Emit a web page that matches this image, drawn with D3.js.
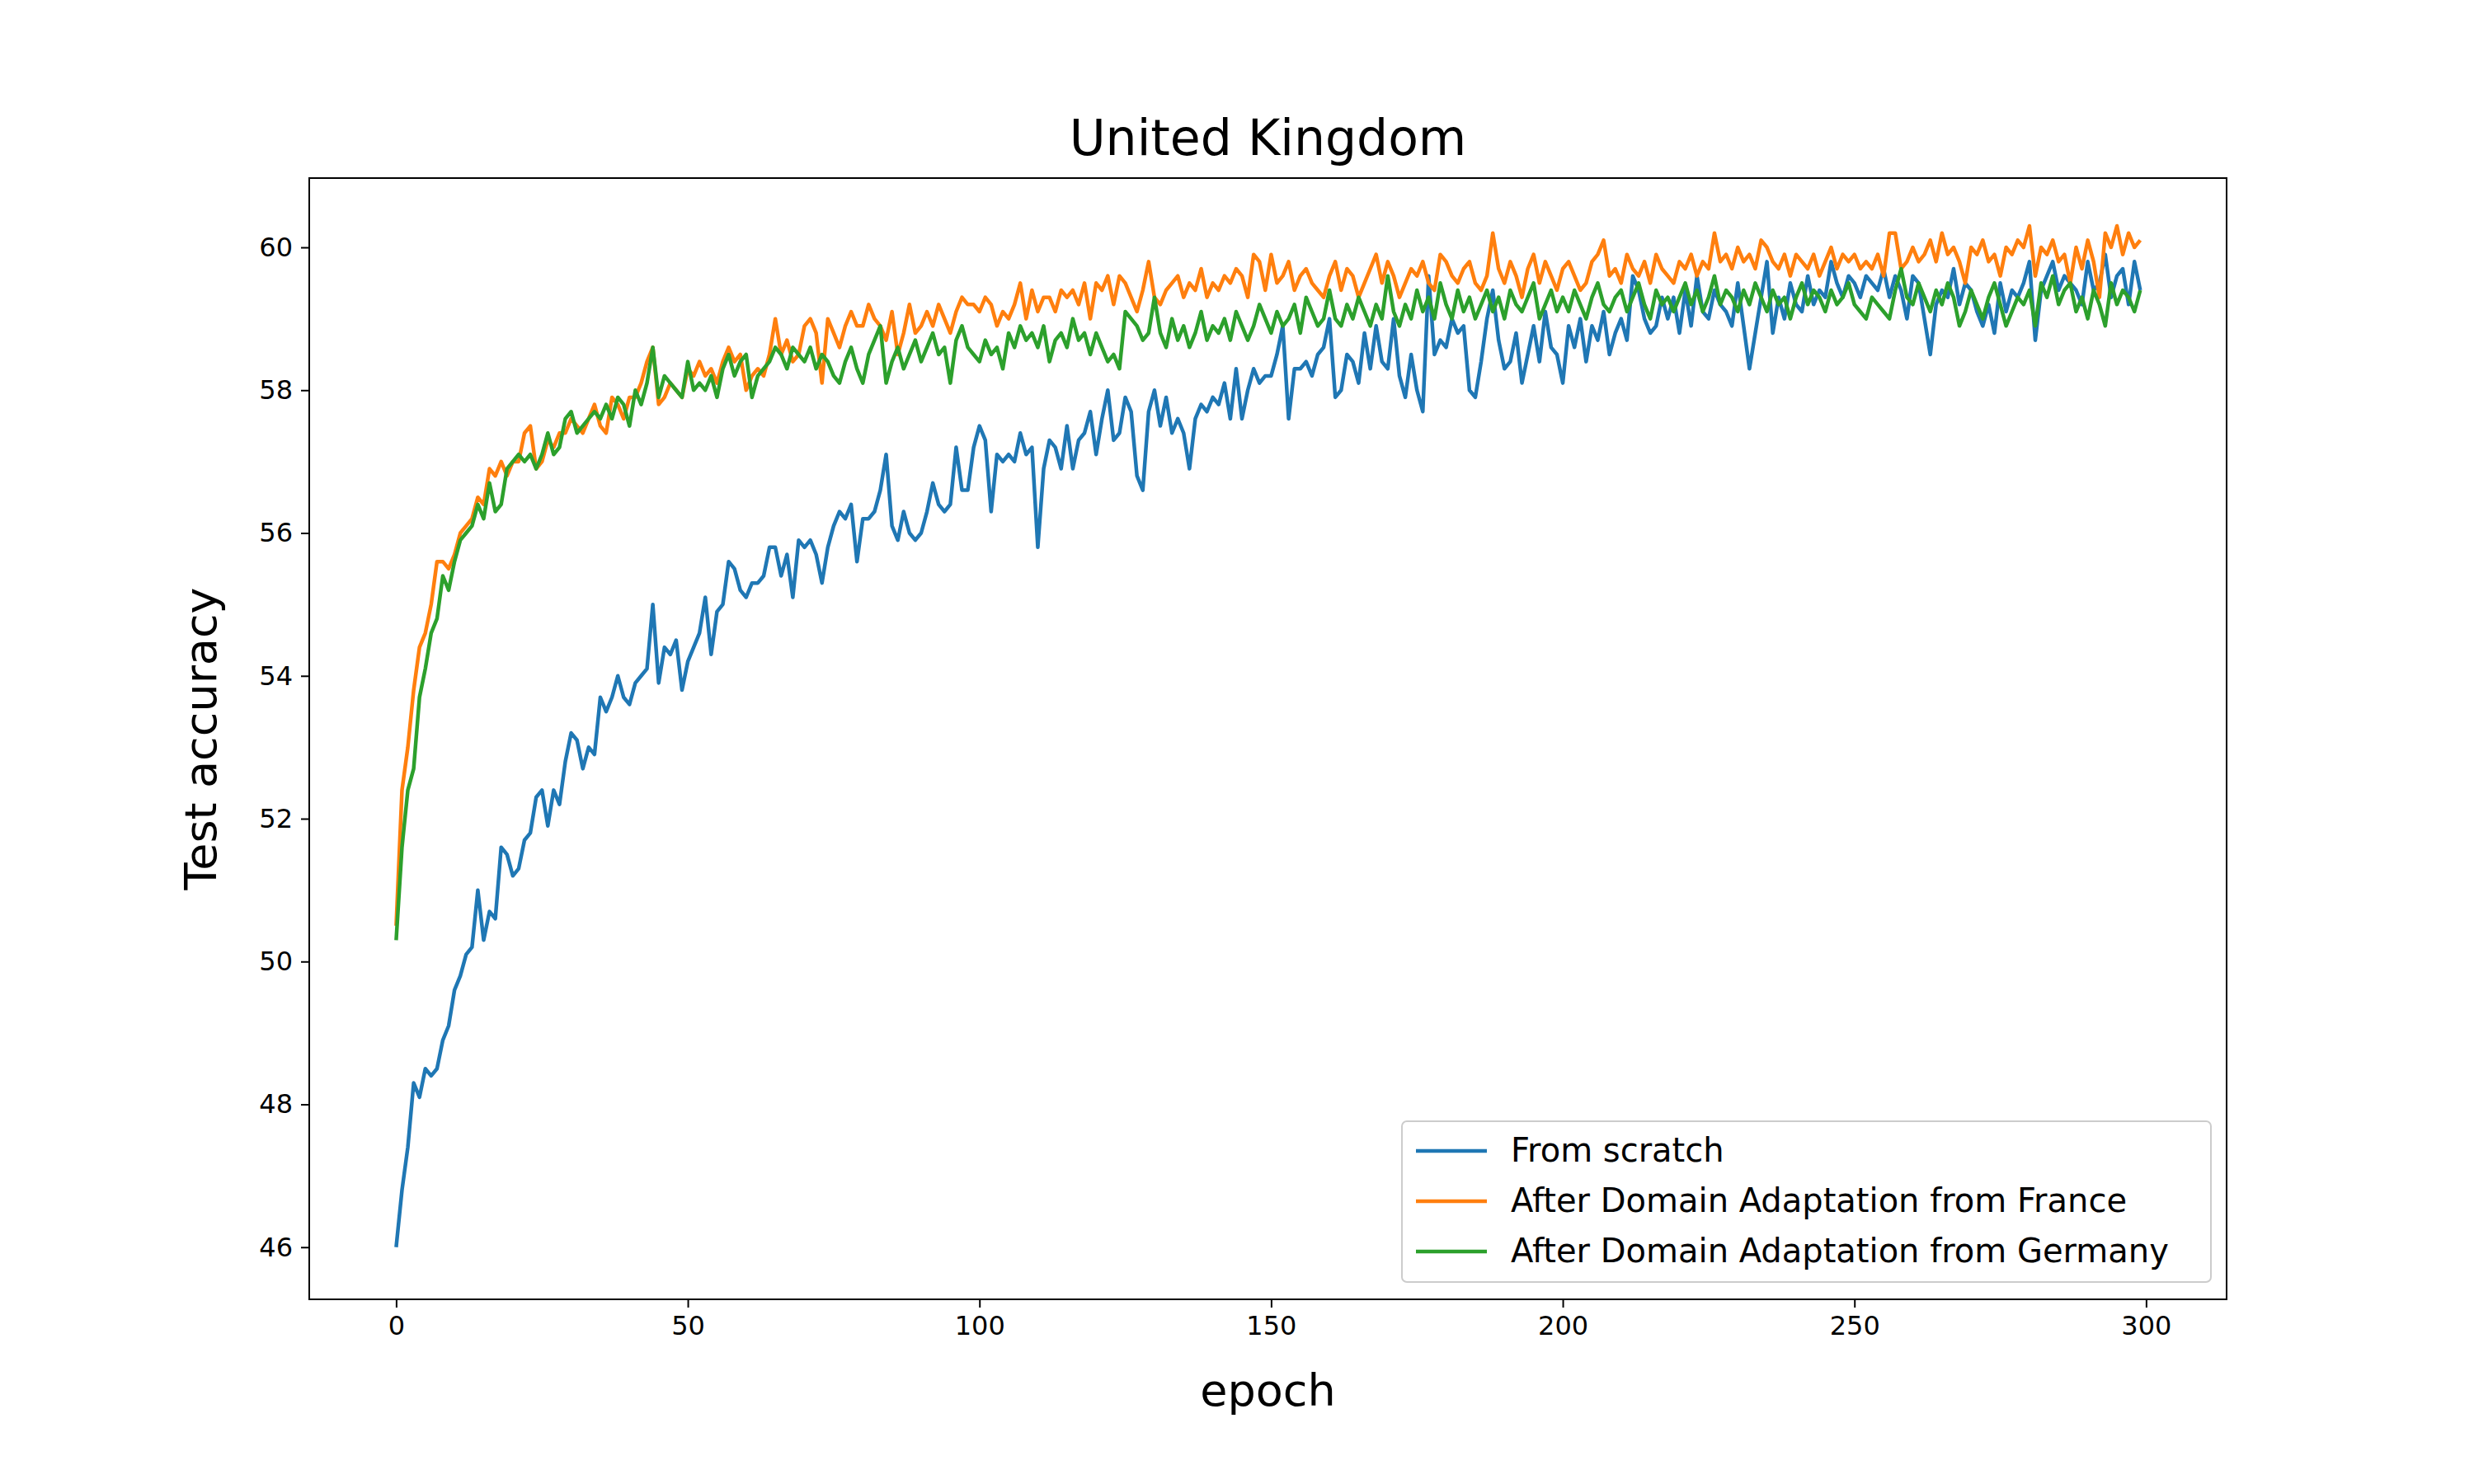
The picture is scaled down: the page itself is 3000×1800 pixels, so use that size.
<!DOCTYPE html>
<html>
<head>
<meta charset="utf-8">
<script src="https://cdn.jsdelivr.net/npm/d3@7"></script>
<style>
  body { margin: 0; background: #fff; }
  text { font-family: "DejaVu Sans", sans-serif; }
</style>
</head>
<body>
<div id="chart"></div>
<script>
// test accuracy per epoch
var scratch = [
46.0,46.8,47.4,48.3,48.1,48.5,48.4,48.5,48.9,49.1,
49.6,49.8,50.1,50.2,51.0,50.3,50.7,50.6,51.6,51.5,
51.2,51.3,51.7,51.8,52.3,52.4,51.9,52.4,52.2,52.8,
53.2,53.1,52.7,53.0,52.9,53.7,53.5,53.7,54.0,53.7,
53.6,53.9,54.0,54.1,55.0,53.9,54.4,54.3,54.5,53.8,
54.2,54.4,54.6,55.1,54.3,54.9,55.0,55.6,55.5,55.2,
55.1,55.3,55.3,55.4,55.8,55.8,55.4,55.7,55.1,55.9,
55.8,55.9,55.7,55.3,55.8,56.1,56.3,56.2,56.4,55.6,
56.2,56.2,56.3,56.6,57.1,56.1,55.9,56.3,56.0,55.9,
56.0,56.3,56.7,56.4,56.3,56.4,57.2,56.6,56.6,57.2,
57.5,57.3,56.3,57.1,57.0,57.1,57.0,57.4,57.1,57.2,
55.8,56.9,57.3,57.2,56.9,57.5,56.9,57.3,57.4,57.7,
57.1,57.6,58.0,57.3,57.4,57.9,57.7,56.8,56.6,57.7,
58.0,57.5,57.9,57.4,57.6,57.4,56.9,57.6,57.8,57.7,
57.9,57.8,58.1,57.6,58.3,57.6,58.0,58.3,58.1,58.2,
58.2,58.5,58.9,57.6,58.3,58.3,58.4,58.2,58.5,58.6,
59.0,57.9,58.0,58.5,58.4,58.1,58.8,58.3,58.9,58.4,
58.3,59.0,58.2,57.9,58.5,58.0,57.7,59.6,58.5,58.7,
58.6,59.0,58.8,58.9,58.0,57.9,58.4,59.0,59.4,58.7,
58.3,58.4,58.8,58.1,58.5,58.9,58.4,59.1,58.6,58.5,
58.1,58.9,58.6,59.0,58.4,58.9,58.7,59.1,58.5,58.8,
59.0,58.7,59.6,59.4,59.0,58.8,58.9,59.3,59.0,59.3,
58.8,59.4,58.9,59.6,59.1,59.0,59.4,59.2,59.1,58.9,
59.5,58.9,58.3,58.8,59.3,59.8,58.8,59.3,59.0,59.5,
59.2,59.1,59.6,59.2,59.4,59.3,59.8,59.5,59.3,59.6,
59.5,59.3,59.6,59.5,59.4,59.7,59.3,59.6,59.4,59.0,
59.6,59.5,59.0,58.5,59.2,59.4,59.3,59.7,59.2,59.5,
59.4,59.1,58.9,59.2,58.8,59.5,59.1,59.4,59.3,59.5,
59.8,58.7,59.4,59.6,59.8,59.4,59.6,59.5,59.4,59.2,
59.8,59.4,59.5,59.9,59.3,59.6,59.7,59.2,59.8,59.4
];
var fromFrance = [
50.5,52.4,53.0,53.8,54.4,54.6,55.0,55.6,55.6,55.5,
55.7,56.0,56.1,56.2,56.5,56.4,56.9,56.8,57.0,56.8,
57.0,57.0,57.4,57.5,56.9,57.0,57.3,57.2,57.4,57.4,
57.6,57.5,57.4,57.6,57.8,57.5,57.4,57.9,57.8,57.6,
57.9,57.9,58.1,58.4,58.6,57.8,57.9,58.1,58.0,57.9,
58.3,58.2,58.4,58.2,58.3,58.1,58.4,58.6,58.4,58.5,
58.0,58.2,58.3,58.2,58.5,59.0,58.5,58.7,58.4,58.5,
58.9,59.0,58.8,58.1,59.0,58.8,58.6,58.9,59.1,58.9,
58.9,59.2,59.0,58.9,58.7,59.1,58.5,58.8,59.2,58.8,
58.9,59.1,58.9,59.2,59.0,58.8,59.1,59.3,59.2,59.2,
59.1,59.3,59.2,58.9,59.1,59.0,59.2,59.5,59.0,59.4,
59.1,59.3,59.3,59.1,59.4,59.3,59.4,59.2,59.5,59.0,
59.5,59.4,59.6,59.2,59.6,59.5,59.3,59.1,59.4,59.8,
59.3,59.2,59.4,59.5,59.6,59.3,59.5,59.4,59.7,59.3,
59.5,59.4,59.6,59.5,59.7,59.6,59.3,59.9,59.8,59.4,
59.9,59.5,59.6,59.8,59.4,59.6,59.7,59.5,59.4,59.3,
59.6,59.8,59.4,59.7,59.6,59.3,59.5,59.7,59.9,59.5,
59.8,59.6,59.3,59.5,59.7,59.6,59.8,59.5,59.4,59.9,
59.8,59.6,59.5,59.7,59.8,59.5,59.4,59.6,60.2,59.7,
59.5,59.8,59.6,59.3,59.7,59.9,59.5,59.8,59.6,59.4,
59.7,59.8,59.6,59.4,59.5,59.8,59.9,60.1,59.6,59.7,
59.5,59.9,59.7,59.6,59.8,59.5,59.9,59.7,59.6,59.5,
59.8,59.7,59.9,59.6,59.8,59.7,60.2,59.8,59.9,59.7,
60.0,59.8,59.9,59.7,60.1,60.0,59.8,59.7,59.9,59.6,
59.9,59.8,59.7,59.9,59.6,59.8,60.0,59.7,59.9,59.8,
59.9,59.7,59.8,59.7,59.9,59.6,60.2,60.2,59.7,59.8,
60.0,59.8,59.9,60.1,59.8,60.2,59.9,60.0,59.8,59.5,
60.0,59.9,60.1,59.8,59.9,59.6,60.0,59.9,60.1,60.0,
60.3,59.6,60.0,59.9,60.1,59.8,59.9,59.5,60.0,59.7,
60.1,59.8,59.3,60.2,60.0,60.3,59.9,60.2,60.0,60.1
];
var fromGermany = [
50.3,51.6,52.4,52.7,53.7,54.1,54.6,54.8,55.4,55.2,
55.6,55.9,56.0,56.1,56.4,56.2,56.7,56.3,56.4,56.9,
57.0,57.1,57.0,57.1,56.9,57.1,57.4,57.1,57.2,57.6,
57.7,57.4,57.5,57.6,57.7,57.6,57.8,57.6,57.9,57.8,
57.5,58.0,57.8,58.1,58.6,57.9,58.2,58.1,58.0,57.9,
58.4,58.0,58.1,58.0,58.2,57.9,58.3,58.5,58.2,58.4,
58.5,57.9,58.2,58.3,58.4,58.6,58.5,58.3,58.6,58.5,
58.4,58.6,58.3,58.5,58.4,58.2,58.1,58.4,58.6,58.3,
58.1,58.5,58.7,58.9,58.1,58.4,58.6,58.3,58.5,58.7,
58.4,58.6,58.8,58.5,58.6,58.1,58.7,58.9,58.6,58.5,
58.4,58.7,58.5,58.6,58.3,58.8,58.6,58.9,58.7,58.8,
58.6,58.9,58.4,58.7,58.8,58.6,59.0,58.7,58.8,58.5,
58.8,58.6,58.4,58.5,58.3,59.1,59.0,58.9,58.7,58.8,
59.3,58.8,58.6,59.0,58.7,58.9,58.6,58.8,59.1,58.7,
58.9,58.8,59.0,58.7,59.1,58.9,58.7,58.9,59.2,59.0,
58.8,59.1,58.9,59.0,59.2,58.8,59.3,59.1,58.9,59.0,
59.4,59.0,58.9,59.2,59.0,59.3,59.1,58.9,59.2,59.0,
59.6,59.1,58.9,59.2,59.0,59.4,59.1,59.3,59.0,59.5,
59.2,59.0,59.4,59.1,59.3,59.0,59.2,59.4,59.1,59.3,
59.0,59.4,59.2,59.1,59.3,59.5,59.0,59.2,59.4,59.1,
59.3,59.1,59.4,59.2,59.0,59.3,59.5,59.2,59.1,59.3,
59.4,59.1,59.3,59.5,59.2,59.0,59.4,59.2,59.3,59.1,
59.3,59.5,59.2,59.4,59.1,59.3,59.6,59.2,59.4,59.3,
59.1,59.4,59.2,59.5,59.3,59.1,59.4,59.2,59.3,59.0,
59.3,59.5,59.2,59.4,59.3,59.1,59.4,59.2,59.3,59.5,
59.2,59.1,59.0,59.3,59.2,59.1,59.0,59.4,59.7,59.3,
59.2,59.5,59.3,59.1,59.4,59.2,59.5,59.3,58.9,59.1,
59.4,59.2,59.0,59.3,59.5,59.2,58.9,59.1,59.3,59.2,
59.4,58.9,59.5,59.3,59.6,59.2,59.4,59.5,59.1,59.3,
59.0,59.4,59.2,58.9,59.5,59.2,59.4,59.3,59.1,59.4
];

var seriesNames = ['From scratch', 'After Domain Adaptation from France', 'After Domain Adaptation from Germany'];
var seriesColors = ['#1f77b4', '#ff7f0e', '#2ca02c'];
var xTicks = [0, 50, 100, 150, 200, 250, 300];
var yTicks = [46, 48, 50, 52, 54, 56, 58, 60];

var W = 3000, H = 1800;
var m = {left: 375, right: 300, top: 216, bottom: 224};

var svg = d3.select('#chart').append('svg').attr('width', W).attr('height', H);

var x = d3.scaleLinear().domain([-14.9, 313.8]).range([m.left, W - m.right]);
var y = d3.scaleLinear().domain([45.27, 60.97]).range([H - m.bottom, m.top]);

var line = d3.line().x(function(d, i) { return x(i); }).y(function(d) { return y(d); });

var plot = svg.append('g');
[scratch, fromFrance, fromGermany].forEach(function(s, k) {
	plot.append('path').datum(s)
		.attr('d', line)
		.attr('fill', 'none')
		.attr('stroke', seriesColors[k])
		.attr('stroke-width', 4.5)
		.attr('stroke-linejoin', 'round');
});

// frame
svg.append('rect')
	.attr('x', m.left).attr('y', m.top)
	.attr('width', W - m.left - m.right).attr('height', H - m.top - m.bottom)
	.attr('fill', 'none').attr('stroke', '#000').attr('stroke-width', 2);

var xAxis = svg.append('g').attr('transform', 'translate(0,' + (H - m.bottom) + ')')
	.call(d3.axisBottom(x).tickValues(xTicks).tickSize(10).tickPadding(10));
var yAxis = svg.append('g').attr('transform', 'translate(' + m.left + ',0)')
	.call(d3.axisLeft(y).tickValues(yTicks).tickSize(10).tickPadding(10));
[xAxis, yAxis].forEach(function(a) {
	a.select('.domain').remove();
	a.selectAll('line').attr('stroke-width', 2);
	a.selectAll('text').style('font-size', '32px').style('font-family', 'DejaVu Sans');
});

svg.append('text').attr('x', (m.left + W - m.right) / 2).attr('y', 188)
	.attr('text-anchor', 'middle').style('font-size', '60px').text('United Kingdom');
svg.append('text').attr('x', (m.left + W - m.right) / 2).attr('y', 1705)
	.attr('text-anchor', 'middle').style('font-size', '54px').text('epoch');
svg.append('text').attr('transform', 'translate(262,' + (m.top + H - m.bottom) / 2 + ') rotate(-90)')
	.attr('text-anchor', 'middle').style('font-size', '54px').text('Test accuracy');

// legend
var lg = svg.append('g').attr('transform', 'translate(1700,1360)');
lg.append('rect').attr('width', 981).attr('height', 195).attr('rx', 6)
	.attr('fill', '#fff').attr('fill-opacity', 0.8).attr('stroke', '#ccc').attr('stroke-width', 2);
seriesNames.forEach(function(n, k) {
	var yy = 36 + k * 61;
	lg.append('line').attr('x1', 17).attr('x2', 103).attr('y1', yy).attr('y2', yy)
		.attr('stroke', seriesColors[k]).attr('stroke-width', 4.5);
	lg.append('text').attr('x', 132).attr('y', yy + 13).style('font-size', '40px').text(n);
});
</script>
</body>
</html>
